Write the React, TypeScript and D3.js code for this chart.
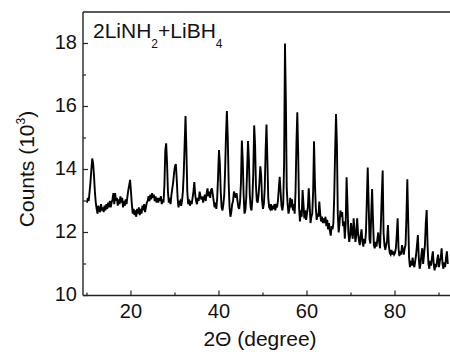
import React from "react";
import * as d3 from "d3";

// XRD scan, step 0.2 degree; each segment lists counts (10^3) starting at its start angle
const scanStep = 0.2;
const seg10 = { start: 10, counts: [
  12.95, 13.1, 13.0, 13.3, 13.6, 14.0, 14.35, 14.2, 13.8, 13.3,
  12.95, 12.75, 12.6, 12.85, 12.7, 12.65, 12.9, 12.7, 12.8, 12.65,
  12.85, 12.7, 12.9, 12.75, 12.95, 12.8, 13.0, 12.8, 12.95, 13.05,
  13.25, 12.9, 13.25, 13.0, 13.1, 12.85, 13.05, 12.9, 13.15, 12.95,
  13.1, 12.8, 13.0, 12.85, 13.05, 12.9, 13.15, 13.35, 13.5, 13.67,
] };
const seg20 = { start: 20, counts: [
  13.3, 12.9, 12.6, 12.75, 12.55, 12.7, 12.5, 12.75, 12.6, 12.8,
  12.55, 12.75, 12.6, 12.85, 12.7, 12.9, 12.65, 12.8, 12.95, 13.0,
  13.15, 13.0, 13.2, 13.05, 13.25, 13.1, 13.2, 13.0, 13.15, 12.95,
  13.1, 12.95, 13.1, 13.0, 13.15, 12.9, 13.05, 12.95, 13.5, 14.6,
  14.83, 14.2, 13.3, 12.95, 13.1, 12.9, 13.2, 13.4, 13.6, 13.9,
] };
const seg30 = { start: 30, counts: [
  14.1, 14.17, 13.7, 13.1, 12.8, 12.95, 13.0, 12.85, 13.0, 13.3,
  13.9, 14.8, 15.7, 14.6, 13.3, 12.9, 13.05, 12.85, 13.0, 12.9,
  13.1, 13.3, 13.6, 13.2, 13.0, 12.9, 13.1, 13.0, 13.3, 13.15,
  13.05, 13.15, 12.95, 13.1, 13.2, 13.0, 13.25, 13.4, 13.15, 13.3,
  13.1, 13.35, 13.4, 13.2, 13.0, 12.8, 12.95, 12.75, 13.1, 13.8,
] };
const seg40 = { start: 40, counts: [
  14.62, 14.2, 13.3, 12.8, 12.7, 12.9, 13.2, 14.0, 15.1, 15.86,
  15.0, 13.6, 12.8, 12.5, 12.65, 12.9, 13.0, 13.3, 13.2, 13.1,
  13.25, 13.0, 12.8, 12.75, 13.0, 13.6, 14.92, 14.3, 13.2, 12.6,
  12.7, 13.1, 14.0, 14.9, 14.3, 13.2, 12.8, 12.7, 13.1, 13.9,
  15.4, 14.8, 13.5, 13.0, 12.95, 13.2, 13.6, 14.1, 13.8, 13.0,
] };
const seg50 = { start: 50, counts: [
  12.75, 12.9, 13.4, 14.6, 15.43, 14.3, 13.1, 12.8, 12.75, 12.9,
  12.7, 12.85, 12.75, 12.9, 12.7, 12.85, 12.8, 13.0, 13.4, 13.77,
  13.3, 12.85, 12.7, 12.9, 14.2, 18.0, 16.2, 13.4, 12.9, 12.6,
  12.75, 13.1, 12.8, 13.05, 12.7, 12.9, 12.6, 13.3, 14.8, 15.82,
  14.5, 12.8, 12.35, 12.7, 12.5, 13.35, 12.9, 12.45, 12.7, 12.4,
] };
const seg60 = { start: 60, counts: [
  12.6, 12.8, 13.4, 12.9, 12.3, 12.5, 12.6, 13.3, 14.9, 13.6,
  12.8, 12.4, 12.6, 12.5, 12.98, 12.6, 12.35, 12.5, 12.3, 12.45,
  12.3, 12.5, 12.2, 12.4, 12.1, 12.3, 12.05, 11.9, 12.2, 12.1,
  12.3, 13.2, 14.6, 15.76, 14.8, 12.6, 12.0, 12.3, 12.7, 12.5,
  12.65, 12.2, 12.35, 11.8, 12.3, 13.75, 12.9, 12.0, 11.7, 11.9,
] };
const seg70 = { start: 70, counts: [
  12.3, 12.0, 11.8, 12.45, 12.1, 11.7, 11.9, 12.45, 12.0, 11.75,
  11.6, 11.9, 12.1, 11.7, 11.55, 11.8, 11.65, 12.0, 13.0, 14.06,
  13.0, 11.8, 11.65, 12.6, 13.38, 12.4, 11.6, 11.5, 11.7, 11.55,
  11.8, 12.0, 11.7, 11.5, 12.3, 13.2, 13.97, 12.0, 11.6, 11.45,
  11.6, 11.75, 12.24, 11.6, 11.35, 11.3, 11.45, 11.3, 11.4, 11.3,
] };
const seg80 = { start: 80, counts: [
  11.35, 11.5, 11.9, 12.45, 11.5, 11.25, 11.4, 11.3, 11.6, 11.45,
  11.3, 11.5, 11.6, 12.5, 13.69, 12.4, 11.2, 10.9, 11.1, 10.95,
  11.2, 11.0, 10.9, 11.1, 11.3, 11.6, 11.92, 11.2, 10.85, 11.0,
  11.3, 11.5, 11.0, 11.3, 11.6, 12.3, 12.71, 11.6, 11.0, 10.85,
  11.1, 10.95, 11.2, 11.4, 11.0, 10.8, 11.0, 10.9, 11.15, 11.3,
  10.9, 11.1, 11.2, 11.5, 11.0, 10.85, 11.05, 10.9, 11.2, 11.4,
  11.0,
] };
const segments = [seg10, seg20, seg30, seg40, seg50, seg60, seg70, seg80];

const xMajorTicks = [20, 40, 60, 80];
const xMinorTicks = [10, 30, 50, 70, 90];
const yMajorTicks = [10, 12, 14, 16, 18];
const yMinorTicks = [11, 13, 15, 17];

const W = 450;
const H = 352;
const left = 83;
const right = 450;
const top = 12;
const bottom = 295.5;
const font = "'Liberation Sans', Arial, Helvetica, sans-serif";

export default function App() {
  const x = d3.scaleLinear().domain([9.1, 92.5]).range([left, right]);
  const y = d3.scaleLinear().domain([10, 19]).range([bottom, top]);

  const points: [number, number][] = [];
  segments.forEach((s) =>
    s.counts.forEach((c, i) => points.push([s.start + i * scanStep, c]))
  );
  const line = d3
    .line<[number, number]>()
    .x((d) => x(d[0]))
    .y((d) => y(d[1]));

  return (
    <svg
      width={W}
      height={H}
      style={{ position: "absolute", left: 0, top: 0, background: "#fff" }}
      fontFamily={font}
    >
      <rect x={0} y={0} width={W} height={H} fill="#fff" />
      <path d={line(points) || ""} fill="none" stroke="#000" strokeWidth={1.9} strokeLinejoin="miter" strokeMiterlimit={3} />
      {/* frame */}
      <line x1={left} x2={left} y1={top} y2={bottom} stroke="#222" strokeWidth={1.4} />
      <line x1={left} x2={right} y1={bottom} y2={bottom} stroke="#222" strokeWidth={1.4} />
      <line x1={left} x2={right} y1={top} y2={top} stroke="#222" strokeWidth={1.4} />
      {xMajorTicks.map((t) => (
        <g key={"xM" + t}>
          <line x1={x(t)} x2={x(t)} y1={bottom} y2={bottom - 5} stroke="#222" strokeWidth={1.2} />
          <text x={x(t)} y={318} textAnchor="middle" fontSize={20} fill="#111">{t}</text>
        </g>
      ))}
      {xMinorTicks.map((t) => (
        <line key={"xm" + t} x1={x(t)} x2={x(t)} y1={bottom} y2={bottom - 3} stroke="#222" strokeWidth={1.2} />
      ))}
      {yMajorTicks.map((t) => (
        <g key={"yM" + t}>
          <line x1={left} x2={left + 5} y1={y(t)} y2={y(t)} stroke="#222" strokeWidth={1.2} />
          <text x={77} y={y(t) + 5} textAnchor="end" fontSize={20} fill="#111">{t}</text>
        </g>
      ))}
      {yMinorTicks.map((t) => (
        <line key={"ym" + t} x1={left} x2={left + 3} y1={y(t)} y2={y(t)} stroke="#222" strokeWidth={1.2} />
      ))}
      <text x={93} y={38} fontSize={21} fill="#111">
        2LiNH
        <tspan fontSize={12} dy={10}>2</tspan>
        <tspan dy={-10}>+LiBH</tspan>
        <tspan fontSize={12} dy={10}>4</tspan>
      </text>
      <text x={260} y={346} textAnchor="middle" fontSize={21} fill="#111">2Θ (degree)</text>
      <text transform={`translate(34,169) rotate(-90)`} textAnchor="middle" fontSize={21} fill="#111">
        Counts (10
        <tspan fontSize={12} dy={-9}>3</tspan>
        <tspan dy={9}>)</tspan>
      </text>
    </svg>
  );
}
